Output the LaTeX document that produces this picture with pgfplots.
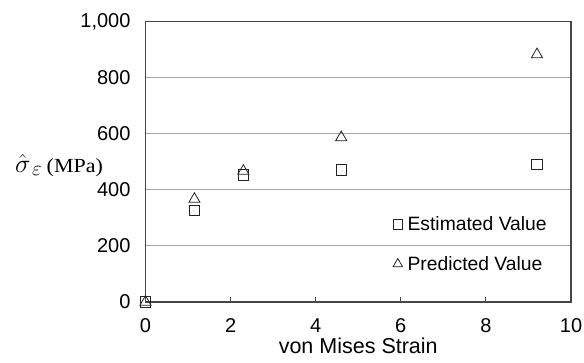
\RequirePackage{fix-cm}
\documentclass[border=0pt]{standalone}
\usepackage{pgfplots}
\pgfplotsset{compat=1.18}
\usepackage{graphicx}
\usepackage{fontspec}
\setmainfont{Liberation Sans}
\newfontfamily\serifrm{Liberation Serif}
\definecolor{axisgray}{RGB}{70,70,70}
\definecolor{gridgray}{RGB}{165,165,165}
\definecolor{markgray}{RGB}{35,35,35}
\newcommand{\tickfont}{\fontsize{20bp}{23bp}\selectfont}
% legend image: one mark only, of the given size
\pgfplotsset{single mark legend/.style={legend image code/.code={\draw[##1, mark size=#1] plot coordinates {(0,0)};}}}
\newcommand{\stresslabel}{%
  {\fontsize{26bp}{30bp}\selectfont$\hat{\sigma}$}%
  \hspace{1.5bp}%
  \raisebox{-3bp}{\fontsize{21bp}{24bp}\selectfont$\varepsilon$}%
  \hspace{5bp}%
  {\serifrm\fontsize{20bp}{23bp}\selectfont\scalebox{1.1}[1]{(MPa)}}}
\begin{document}
\begin{tikzpicture}
\path[use as bounding box] (0,0) rectangle (584bp,363bp);
\begin{axis}[
  at={(145.5bp,61bp)}, anchor=south west,
  scale only axis, width=425.5bp, height=280.3bp,
  xmin=0, xmax=10, ymin=0, ymax=1000,
  xtick={0,2,4,6,8,10}, ytick={0,200,400,600,800,1000},
  ymajorgrids, major grid style={gridgray, line width=1.1bp},
  axis line style={axisgray, line width=1.2bp},
  tick align=inside, xtick pos=bottom, ytick pos=left,
  major tick length=5bp,
  xtick style={axisgray, line width=1.1bp},
  ytick style={draw=none},
  /pgf/number format/assume math mode=true,
  /pgf/number format/1000 sep={,},
  ticklabel style={font=\tickfont},
  xticklabel style={yshift=-13bp},
  yticklabel style={xshift=-11.5bp},
  xlabel={von Mises Strain},
  xlabel style={font=\fontsize{21.5bp}{25bp}\selectfont, at={(axis description cs:0.5,-0.184)}, anchor=base},
  ylabel={\stresslabel},
  ylabel style={rotate=-90, at={(axis description cs:-0.3067,0.462)}, anchor=base west, inner sep=0pt},
  clip=false,
  legend style={draw=none, fill=none, inner sep=0pt, outer sep=0pt,
    font=\fontsize{19.3bp}{22bp}\selectfont, row sep=20bp, legend cell align=left,
    /tikz/every odd column/.append style={column sep=3bp},
    at={(axis description cs:0.5817,0.311)}, anchor=north west},
]
\addplot[only marks, mark=square, mark size=5.2bp, draw=markgray, line width=0.8bp,
  single mark legend=4.8bp]
  coordinates {(0,0) (1.15,326) (2.3,453) (4.6,471) (9.2,490)};
\addlegendentry{Estimated Value}
\addplot[only marks, mark=triangle, mark size=6.4bp, draw=markgray, line width=0.8bp,
  single mark legend=5.5bp]
  coordinates {(0,0) (1.15,367) (2.3,467) (4.6,587) (9.2,883)};
\addlegendentry{Predicted Value}
\end{axis}
\end{tikzpicture}
\end{document}
